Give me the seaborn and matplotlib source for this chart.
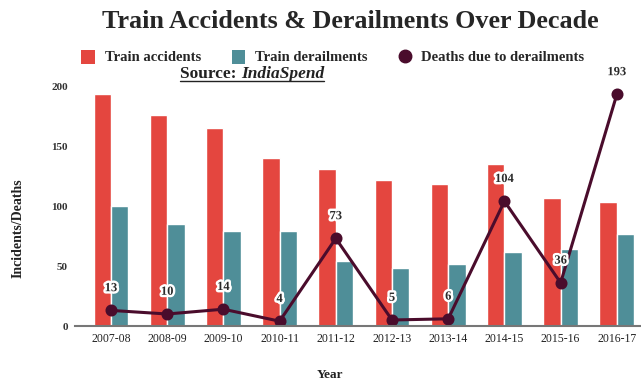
import matplotlib
matplotlib.use("Agg")
import matplotlib.pyplot as plt
import matplotlib.patheffects as pe
import seaborn as sns
import pandas as pd
from matplotlib.lines import Line2D
from matplotlib.patches import Patch

years = ["2007-08", "2008-09", "2009-10", "2010-11", "2011-12",
         "2012-13", "2013-14", "2014-15", "2015-16", "2016-17"]
accidents = [193, 176, 165, 140, 131, 122, 118, 135, 107, 103]
derailments = [100, 85, 79, 79, 54, 48, 52, 62, 64, 77]
deaths = [13, 10, 14, 4, 73, 5, 6, 104, 36, 193]
yticks = [0, 50, 100, 150, 200]

RED = "#e4463f"
TEAL = "#4f8e98"
DARK = "#4a0c2c"

sns.set_style("white")
plt.rcParams["font.family"] = ["Liberation Serif", "DejaVu Serif"]

bars = pd.DataFrame({
    "Year": years * 2,
    "Value": accidents + derailments,
    "Series": ["Train accidents"] * len(years) + ["Train derailments"] * len(years),
})
line = pd.DataFrame({"Year": years, "Deaths": deaths})

fig = plt.figure(figsize=(6.41, 3.84), dpi=100)
ax = fig.add_axes([75 / 641, 1 - 326 / 384, 1 - 75 / 641, (326 - 74) / 384])

sns.barplot(data=bars, x="Year", y="Value", hue="Series",
            palette=[RED, TEAL], width=0.62, gap=0, ax=ax,
            saturation=1, legend=False)
sns.pointplot(data=line, x="Year", y="Deaths", color=DARK, ax=ax,
              markers="o", markersize=7, linewidth=2.2)

for i, d in enumerate(deaths):
    ax.annotate(str(d), (i, d), xytext=(0, 16), textcoords="offset points",
                ha="center", va="center", fontsize=9, fontweight="bold",
                color="#2a2a2a",
                path_effects=[pe.withStroke(linewidth=3.5, foreground="white")])

ax.set_xlim(-0.64, 9.43)
ax.set_ylim(0, 210)
ax.set_yticks(yticks)
ax.set_yticklabels([str(t) for t in yticks], fontsize=8, fontweight="bold", color="#333333")
ax.set_xticks(range(len(years)))
ax.set_xticklabels(years, fontsize=8.5, color="#222222")
ax.tick_params(axis="both", length=0, pad=5)
ax.set_xlabel("")
ax.set_ylabel("")
for s in ["top", "right", "left"]:
    ax.spines[s].set_visible(False)
ax.spines["bottom"].set_color("#777777")
ax.spines["bottom"].set_linewidth(1.5)

fig.text(18 / 641, 1 - 228 / 384, "Incidents/Deaths", rotation=90, ha="center",
         va="center", fontsize=10, fontweight="bold", color="#222222")
fig.text(330 / 641, 1 - 375 / 384, "Year", ha="center", va="center",
         fontsize=9.5, fontweight="bold", color="#222222")

fig.text(350 / 641, 1 - 22 / 384, "Train Accidents & Derailments Over Decade",
         ha="center", va="center", fontsize=18.8, fontweight="bold", color="#262626")

handles = [
    Patch(facecolor=RED, edgecolor="none", label="Train accidents"),
    Patch(facecolor=TEAL, edgecolor="none", label="Train derailments"),
    Line2D([], [], marker="o", color=DARK, linestyle="none", markersize=9,
           label="Deaths due to derailments"),
]
fig.legend(handles=handles, loc="center", bbox_to_anchor=(333 / 641, 1 - 57 / 384),
           ncol=3, frameon=False, prop={"weight": "bold", "size": 10.5},
           handlelength=0.9, handleheight=1.1, handletextpad=0.7, columnspacing=2.1)

# Source line, underlined
t1 = fig.text(180 / 641, 1 - 74 / 384, "Source: ", ha="left", va="center",
              fontsize=12.5, fontweight="bold", color="#222222")
fig.canvas.draw()
r = fig.canvas.get_renderer()
bb1 = t1.get_window_extent(r).transformed(fig.transFigure.inverted())
t2 = fig.text(bb1.x1, 1 - 74 / 384, "IndiaSpend", ha="left", va="center",
              fontsize=12.5, fontweight="bold", style="italic", color="#222222")
fig.canvas.draw()
bb2 = t2.get_window_extent(r).transformed(fig.transFigure.inverted())
uy = bb1.y0 + 0.002
fig.add_artist(Line2D([bb1.x0, bb2.x1], [uy, uy], transform=fig.transFigure,
                      color="#222222", lw=1.0))

fig.savefig("out.png", dpi=100)
